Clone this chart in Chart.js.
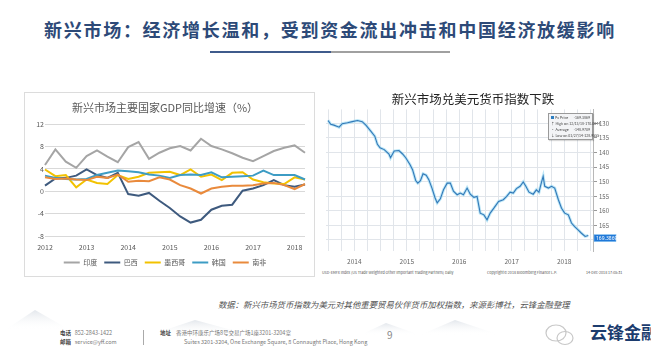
<!DOCTYPE html>
<html><head><meta charset="utf-8">
<script src="https://cdn.jsdelivr.net/npm/chart.js@4.4.0/dist/chart.umd.min.js"></script>
<style>
html,body{margin:0;padding:0;}
body{width:651px;height:356px;position:relative;overflow:hidden;background:#fff;font-family:"Noto Sans CJK SC","Noto Sans",sans-serif;}
.abs{position:absolute;white-space:nowrap;}
.lg{display:flex;justify-content:space-between;}
</style></head><body>

<svg class="abs" style="left:0;top:290px" width="651" height="66">
  <defs><linearGradient id="mg" x1="0" y1="0" x2="0" y2="1"><stop offset="0" stop-color="#e3e7ec"/><stop offset="1" stop-color="#ffffff" stop-opacity="0"/></linearGradient></defs>
  <path d="M5 40 L35 20 L70 40 Z" fill="url(#mg)"/>
  <path d="M150 45 L195 30 L250 45 Z" fill="url(#mg)"/>
  <path d="M360 45 L386 33 L420 45 Z" fill="url(#mg)"/>
  <path d="M420 45 L455 30 L500 45 Z" fill="url(#mg)"/>
</svg>

<div id="mainTitle" class="abs" style="left:44px;top:16px;font-size:18px;font-weight:bold;color:#2d4a78;">新兴市场：经济增长温和，受到资金流出冲击和中国经济放缓影响</div>
<div class="abs" style="left:210px;top:51px;width:121px;height:2px;background:#3f5b8c;"></div>
<div class="abs" style="left:331px;top:51px;width:119px;height:2px;background:#a0a0a0;"></div>

<div class="abs" style="left:24px;top:92px;width:291px;height:185px;box-sizing:border-box;border:1px solid #dcdcdc;background:#fff;">
  <canvas id="gdpChart" width="289" height="183"></canvas>
</div>

<div class="abs" style="left:320px;top:88px;width:300px;height:180px;">
  <canvas id="fxChart" width="300" height="180"></canvas>
</div>

<div class="abs" style="left:548px;top:113px;width:45px;height:27px;box-sizing:border-box;border:1px solid #9a9a9a;background:#f3f4f6;font-size:3.6px;line-height:6px;color:#444;padding:1px 2px 0 2px;box-shadow:1px 1px 1px rgba(0,0,0,0.15);">
  <div class="lg"><span><span style="display:inline-block;width:3px;height:3px;background:#2f7fc1;margin-right:1px"></span>Px Price</span><span>-169.3869</span></div>
  <div class="lg"><span>↑ High on 12/13/18</span><span>-170.0044</span></div>
  <div class="lg"><span>· Average</span><span>-148.9709</span></div>
  <div class="lg"><span>↓ Low on 01/27/14</span><span>-128.9555</span></div>
</div>

<div class="abs" style="left:322px;top:270px;font-size:3.7px;color:#555;">USD-EMFX Index (US Trade Weighted Other Important Trading Partners) Daily</div>
<div class="abs" style="left:487px;top:270px;font-size:3.7px;color:#555;">Copyright© 2018 Bloomberg Finance L.P.</div>
<div class="abs" style="left:586px;top:270px;font-size:3.7px;color:#555;">14-Dec-2018 17:05:31</div>

<div class="abs" style="left:218px;top:298px;font-size:8.4px;font-style:italic;color:#555;">数据：新兴市场货币指数为美元对其他重要贸易伙伴货币加权指数，来源彭博社，云锋金融整理</div>

<div class="abs" style="left:60px;top:329px;font-size:5.5px;line-height:9px;color:#777;">
  <div><b style="color:#444">电话</b>&nbsp;&nbsp;&nbsp;852-2843-1422</div>
  <div><b style="color:#444">邮箱</b>&nbsp;&nbsp;&nbsp;service@yff.com</div>
</div>
<div class="abs" style="left:143px;top:330px;width:1px;height:15px;background:#aaa;"></div>
<div class="abs" style="left:160px;top:329px;font-size:5.5px;line-height:9px;color:#777;">
  <div><b style="color:#444">地址</b>&nbsp;&nbsp;&nbsp;&nbsp;香港中环康乐广场8号交易广场1座3201-3204室</div>
  <div style="padding-left:24px">Suites 3201-3204, One Exchange Square, 8 Connaught Place, Hong Kong</div>
</div>
<div class="abs" style="left:387px;top:327px;font-size:10px;color:#888;">9</div>
<svg class="abs" style="left:543px;top:322px" width="34" height="26">
  <ellipse cx="13" cy="11" rx="10" ry="8" fill="none" stroke="#c8c8c8" stroke-width="1.2"/>
  <ellipse cx="22" cy="16" rx="8" ry="6.5" fill="none" stroke="#c8c8c8" stroke-width="1.2"/>
</svg>
<div class="abs" style="left:590px;top:319px;font-size:17px;font-weight:bold;color:#1c3c6e;">云锋金融</div>

<script>
// ---------- Left chart data: GDP YoY growth (%) ----------
const gdpQuarters = ['2012Q1','2012Q2','2012Q3','2012Q4','2013Q1','2013Q2','2013Q3','2013Q4',
  '2014Q1','2014Q2','2014Q3','2014Q4','2015Q1','2015Q2','2015Q3','2015Q4',
  '2016Q1','2016Q2','2016Q3','2016Q4','2017Q1','2017Q2','2017Q3','2017Q4','2018Q1','2018Q2'];
const gdpYearTicks = ['2012','2013','2014','2015','2016','2017','2018'];
const seriesNames = ['印度','巴西','墨西哥','韩国','南非'];
const india       = [4.7,7.5,5.3,4.2,6.3,7.3,6.2,5.2,7.9,8.8,5.8,6.9,7.7,8.1,7.3,9.4,8.1,7.5,6.8,6.0,5.4,6.3,7.2,7.8,8.2,6.9];
const brazil      = [1.0,2.3,2.4,2.8,3.9,2.9,2.4,3.3,-0.5,-0.8,-0.3,-1.7,-3.0,-4.5,-5.6,-5.1,-3.3,-2.6,-2.4,0.1,0.5,1.1,2.0,1.1,0.8,1.2];
const mexico      = [3.9,2.7,2.9,0.7,2.1,1.5,1.3,2.9,2.2,2.6,3.3,3.4,3.5,2.9,3.9,2.6,3.0,2.0,3.3,3.4,2.1,1.6,1.4,1.3,2.5,2.1];
const korea       = [2.8,2.4,2.2,2.1,2.2,2.9,3.3,3.7,3.6,3.4,3.0,2.8,2.4,2.9,3.0,2.9,3.4,2.5,2.6,2.7,2.8,3.7,2.9,2.9,2.9,2.1];
const southAfrica = [2.5,2.2,2.3,2.1,2.0,2.6,2.4,3.0,1.7,1.9,1.8,2.5,2.1,1.1,0.5,-0.4,0.5,0.8,1.0,1.0,1.1,1.4,1.5,1.1,0.4,1.3];
const gdpColors = ['#a5a5a5','#3e5a7e','#f2c200','#3d9cc4','#e98a3c'];

// ---------- Right chart data: USD vs EM currency index ----------
const fxDates = [2014.00,2014.05,2014.11,2014.21,2014.27,2014.37,2014.46,2014.56,2014.65,2014.72,
  2014.81,2014.89,2014.94,2014.99,2015.07,2015.16,2015.19,2015.26,2015.35,2015.42,2015.48,2015.56,
  2015.61,2015.67,2015.71,2015.76,2015.81,2015.87,2015.92,2015.98,2016.04,2016.08,2016.14,2016.20,
  2016.27,2016.33,2016.39,2016.46,2016.52,2016.58,2016.65,2016.71,2016.78,2016.84,2016.90,2016.97,
  2017.03,2017.09,2017.16,2017.25,2017.34,2017.40,2017.47,2017.53,2017.59,2017.66,2017.72,2017.77,
  2017.83,2017.91,2017.97,2018.02,2018.07,2018.10,2018.13,2018.20,2018.26,2018.32,2018.39,2018.45,
  2018.51,2018.58,2018.64,2018.70,2018.77,2018.83,2018.90,2018.96];
const fxValues = [129.0,130.3,130.6,131.3,130.1,129.8,129.4,129.0,129.4,130.6,
  132.6,134.4,137.2,138.4,139.0,140.5,141.8,139.5,139.3,140.5,141.8,144.1,
  145.9,149.6,150.5,149.7,147.3,147.8,149.3,152.2,155.6,157.3,155.9,152.8,
  150.5,150.5,153.3,154.5,153.9,154.5,152.2,154.3,155.4,155.1,160.8,161.4,
  163.1,160.8,159.1,156.8,156.2,155.1,153.6,153.9,152.4,151.6,150.1,151.6,
  153.6,154.3,152.8,153.6,150.1,148.2,151.6,152.2,151.6,152.2,156.2,159.1,
  160.8,161.4,164.2,165.4,166.6,167.7,168.8,168.5];
const fxYearLabels = ['2014','2015','2016','2017','2018'];
const fxTickValues = [130,135,140,145,150,155,160,165,170];
const fxTickLabels = ['130','135','140','145','150','155','160','165'];
const fxLastValue = 169.39;
const fxLastText = '169.3869';

// fit the slide title to its width in the reference
(function () {
  const el = document.getElementById('mainTitle');
  const n = el.textContent.length;
  const w = el.getBoundingClientRect().width;
  el.style.letterSpacing = ((572 - w) / n) + 'px';
})();

Chart.defaults.font.family = "'Noto Sans CJK SC','Noto Sans',sans-serif";
Chart.defaults.animation = false;

// ---------- Left chart ----------
const gdpSeries = [india, brazil, mexico, korea, southAfrica];
new Chart(document.getElementById('gdpChart'), {
  type: 'line',
  data: {
    labels: gdpQuarters,
    datasets: gdpSeries.map((d, i) => ({
      label: seriesNames[i], data: d, borderColor: gdpColors[i], backgroundColor: gdpColors[i],
      borderWidth: 2, pointRadius: 0, tension: 0, fill: false, order: gdpSeries.length - i
    }))
  },
  options: {
    responsive: false,
    layout: { padding: { left: 0, right: 9, top: 0, bottom: 0 } },
    plugins: {
      title: { display: true, text: '新兴市场主要国家GDP同比增速（%）', color: '#595959',
        font: { size: 11, weight: 'normal' }, padding: { top: 8, bottom: 10 } },
      legend: { position: 'bottom',
        labels: { boxWidth: 16, boxHeight: 2, padding: 7, font: { size: 7 }, color: '#595959',
          sort: (a, b) => a.datasetIndex - b.datasetIndex,
          generateLabels: (chart) => chart.data.datasets.map((ds, i) => ({
            text: ds.label, fillStyle: ds.borderColor, strokeStyle: ds.borderColor,
            lineWidth: 0, hidden: false, datasetIndex: i, fontColor: '#595959' })) } },
      tooltip: { enabled: false }
    },
    scales: {
      x: { type: 'category', offset: false,
        grid: { display: false, drawTicks: false }, border: { display: false },
        afterFit: (s) => { s.height = 16; },
        ticks: { autoSkip: false, maxRotation: 0, padding: 7, font: { size: 7 }, color: '#595959',
          callback: (v, i) => { const y = gdpQuarters[i].slice(0, 4);
            return (gdpQuarters[i].endsWith('Q1') && gdpYearTicks.includes(y)) ? y : ''; } } },
      y: { min: -8, max: 12,
        grid: { color: '#d9d9d9', drawTicks: false }, border: { display: false },
        afterFit: (s) => { s.width = 20; },
        ticks: { stepSize: 2, padding: 1, font: { size: 7 }, color: '#595959' } }
    }
  }
});

// ---------- Right chart ----------
const fxPoints = fxDates.map((d, i) => ({ x: d, y: fxValues[i] }));
const lastValueBox = {
  id: 'lastValueBox',
  afterDraw(chart) {
    const ctx = chart.ctx, ys = chart.scales.y, ca = chart.chartArea;
    const py = ys.getPixelForValue(fxLastValue);
    ctx.save();
    ctx.fillStyle = '#1f78d8';
    ctx.fillRect(ca.right + 1, py - 3.5, 22, 7);
    ctx.strokeStyle = '#8cc4f0'; ctx.lineWidth = 0.6;
    ctx.strokeRect(ca.right + 1, py - 3.5, 22, 7);
    ctx.fillStyle = '#ffffff';
    ctx.font = "5px 'Noto Sans','DejaVu Sans',sans-serif";
    ctx.textBaseline = 'middle'; ctx.textAlign = 'left';
    ctx.fillText(fxLastText, ca.right + 3, py + 0.3);
    ctx.restore();
  }
};
new Chart(document.getElementById('fxChart'), {
  type: 'line',
  data: {
    datasets: [
      { data: fxPoints, borderColor: '#3278b8', borderWidth: 1.1, pointRadius: 0, tension: 0, fill: false },
      { data: fxPoints, borderColor: 'rgba(160,220,242,0.7)', borderWidth: 3, pointRadius: 0, tension: 0, fill: false }
    ]
  },
  options: {
    responsive: false,
    layout: { padding: { left: 6, right: 0, top: 0, bottom: 0 } },
    plugins: {
      title: { display: true, text: '新兴市场兑美元货币指数下跌', color: '#222',
        font: { size: 12.5, weight: 'normal' }, padding: { top: 4, bottom: 2.4 } },
      legend: { display: false },
      tooltip: { enabled: false }
    },
    scales: {
      x: { type: 'linear', min: 2013.96, max: 2019.05,
        afterBuildTicks: (s) => {
          const t = [];
          fxYearLabels.forEach(y => { const b = +y; t.push(b, b + 0.25, b + 0.5, b + 0.75); });
          t.push(+fxYearLabels[fxYearLabels.length - 1] + 1);
          s.ticks = t.map(v => ({ value: v }));
        },
        afterFit: (s) => { s.height = 17; },
        grid: { color: '#e1e5ea', drawTicks: false }, border: { display: false },
        ticks: { autoSkip: false, maxRotation: 0, padding: 6.8, font: { size: 6.5 }, color: '#666',
          callback: (v) => { const f = v - Math.floor(v);
            return Math.abs(f - 0.5) < 1e-6 && fxYearLabels.includes(String(Math.floor(v))) ? String(Math.floor(v)) : ''; } } },
      y: { position: 'right', reverse: true, min: 125.2, max: 173.8,
        afterBuildTicks: (s) => { s.ticks = fxTickValues.map(v => ({ value: v })); },
        afterFit: (s) => { s.width = 27; },
        grid: { color: '#e1e5ea', tickLength: 4, tickColor: '#9a9a9a' },
        border: { display: true, color: '#b8b8b8' },
        ticks: { padding: 2, font: { size: 6 }, color: '#666',
          callback: (v) => { const i = fxTickValues.indexOf(v); return i >= 0 && i < fxTickLabels.length ? fxTickLabels[i] : ''; } } }
    }
  },
  plugins: [lastValueBox]
});
</script>
</body></html>
